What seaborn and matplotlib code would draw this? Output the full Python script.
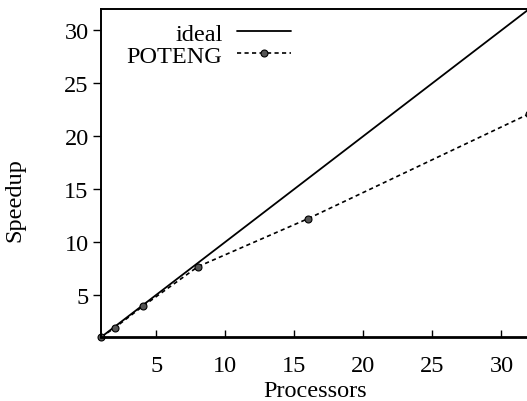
import matplotlib
matplotlib.use("Agg")
import matplotlib.pyplot as plt
import seaborn as sns
import pandas as pd

processors = [1, 2, 4, 8, 16, 32]
ideal = [1, 2, 4, 8, 16, 32]
poteng = [1.0, 1.9, 3.9, 7.65, 12.2, 22.1]

sns.set_theme(style="ticks")
plt.rcParams['font.family'] = ['Liberation Serif', 'DejaVu Serif']

fig = plt.figure(figsize=(5.27, 4.02), dpi=100)
ax = fig.add_axes([0.192, 0.159, 0.812, 0.816])

df_ideal = pd.DataFrame({"Processors": processors, "Speedup": ideal})
df_pot = pd.DataFrame({"Processors": processors, "Speedup": poteng})

sns.lineplot(data=df_ideal, x="Processors", y="Speedup", ax=ax, color="black",
             linewidth=1.3, label="ideal")
sns.lineplot(data=df_pot, x="Processors", y="Speedup", ax=ax, color="black",
             linewidth=1.2, linestyle=(0, (2.5, 2.0)), marker="o", markersize=5,
             markerfacecolor="#555555", markeredgecolor="black", markeredgewidth=0.8,
             label="POTENG", clip_on=False)

ax.set_xlim(1, 32)
ax.set_ylim(1, 32)
ax.set_xticks([5, 10, 15, 20, 25, 30])
ax.set_yticks([5, 10, 15, 20, 25, 30])
ax.tick_params(axis="x", direction="in", length=5, width=1, labelsize=17.5, pad=13, colors="black")
ax.tick_params(axis="y", direction="out", length=6, width=1, labelsize=17.5, pad=3, colors="black")
ax.set_xlabel("Processors", fontsize=17.5, labelpad=3, color="black")
ax.set_ylabel("Speedup", fontsize=17.5, color="black")
ax.yaxis.set_label_coords(-0.178, 0.42)

for side in ["left", "bottom", "top"]:
    ax.spines[side].set_visible(True)
    ax.spines[side].set_color("black")
    ax.spines[side].set_linewidth(1.4)
ax.spines["right"].set_visible(False)
ax.spines["bottom"].set_linewidth(2.0)

leg = ax.legend(loc="upper left", bbox_to_anchor=(0.02, 1.01), frameon=False,
                markerfirst=False, fontsize=17.5, handlelength=2.2, handletextpad=0.6,
                labelspacing=0.0, borderaxespad=0.3)
for t in leg.get_texts():
    t.set_ha("right")
    t.set_color("black")

fig.savefig("out.png", dpi=100)
